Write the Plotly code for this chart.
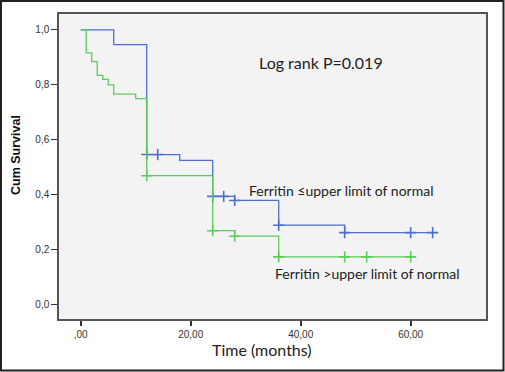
import plotly.graph_objects as go

# ---- data ----
blue_name = "Ferritin ≤upper limit of normal"
blue_times = [0, 6, 12, 18, 24, 28, 36, 48, 64]
blue_surv = [1.0, 0.947, 0.547, 0.526, 0.395, 0.38, 0.29, 0.263, 0.263]
blue_censor_times = [12, 14, 24, 26, 28, 36, 48, 60, 64]

green_name = "Ferritin >upper limit of normal"
green_times = [0, 1, 2, 3, 4, 5, 6, 10, 12, 24, 28, 36, 60]
green_surv = [1.0, 0.917, 0.885, 0.835, 0.82, 0.80, 0.767, 0.75, 0.47, 0.27, 0.25, 0.175, 0.175]
green_censor_times = [12, 24, 28, 36, 48, 52, 60]

x_tickvals = [0, 20, 40, 60]
x_ticktext = [",00", "20,00", "40,00", "60,00"]
y_tickvals = [0, 0.2, 0.4, 0.6, 0.8, 1.0]
y_ticktext = ["0,0", "0,2", "0,4", "0,6", "0,8", "1,0"]

BLUE = "#4f6fcf"
GREEN = "#5ecb5e"


def surv_at(times, surv, t):
    v = surv[0]
    for ti, si in zip(times, surv):
        if ti <= t:
            v = si
    return v


fig = go.Figure()
for name, times, surv, ctimes, col in [
    (blue_name, blue_times, blue_surv, blue_censor_times, BLUE),
    (green_name, green_times, green_surv, green_censor_times, GREEN),
]:
    fig.add_trace(go.Scatter(x=times, y=surv, mode="lines", line_shape="hv",
                             line=dict(color=col, width=1.3), name=name,
                             showlegend=False, hoverinfo="skip"))
    fig.add_trace(go.Scatter(x=ctimes, y=[surv_at(times, surv, t) for t in ctimes],
                             mode="markers",
                             marker=dict(symbol="cross-thin", size=8,
                                         line=dict(color=col, width=1.6)),
                             showlegend=False, hoverinfo="skip"))

tickfont = dict(family="Liberation Sans, Arial", size=10, color="#333333")
fig.update_xaxes(range=[-3.95, 73.7], tickvals=x_tickvals, ticktext=x_ticktext,
                 ticks="outside", ticklen=5, tickwidth=2, tickcolor="#333333",
                 showgrid=False, zeroline=False, showline=True, linecolor="#555555",
                 linewidth=1.5, mirror=True, tickfont=tickfont, automargin=False)
fig.update_yaxes(range=[-0.051, 1.058], tickvals=y_tickvals, ticktext=y_ticktext,
                 ticks="outside", ticklen=6, tickwidth=1.2, tickcolor="#333333",
                 showgrid=False, zeroline=False, showline=True, linecolor="#555555",
                 linewidth=1.5, mirror=True, tickfont=tickfont, automargin=False)

ann_font = dict(family="Lato, Open Sans", color="#222222")
fig.update_layout(
    width=505, height=372,
    margin=dict(l=59, r=19, t=14, b=53),
    paper_bgcolor="white", plot_bgcolor="#f3f3f3",
    annotations=[
        dict(text="Log rank P=0.019", x=0.4637, y=0.8426, xref="paper", yref="paper",
             xanchor="left", yanchor="middle", showarrow=False,
             font=dict(size=16, **ann_font)),
        dict(text=blue_name, x=0.4396, y=0.4207, xref="paper", yref="paper",
             xanchor="left", yanchor="middle", showarrow=False,
             font=dict(size=14, **ann_font)),
        dict(text=green_name, x=0.5005, y=0.1498, xref="paper", yref="paper",
             xanchor="left", yanchor="middle", showarrow=False,
             font=dict(size=14, **ann_font)),
        dict(text="Time (months)", x=0.4747, y=-0.0984, xref="paper", yref="paper",
             xanchor="center", yanchor="middle", showarrow=False,
             font=dict(size=16, **ann_font)),
        dict(text="<b>Cum Survival</b>", x=-0.1007, y=0.5377, xref="paper", yref="paper",
             xanchor="center", yanchor="middle", showarrow=False, textangle=-90,
             font=dict(family="Liberation Sans, Arial", size=12.5, color="#111111")),
    ],
    shapes=[
        dict(type="rect", xref="paper", yref="paper",
             x0=(1 - 59) / 427, x1=(503.5 - 59) / 427,
             y0=(319 - 370.5) / 305, y1=(319 - 1) / 305,
             line=dict(color="#222222", width=2), fillcolor="rgba(0,0,0,0)", layer="above"),
    ],
)

fig.write_html("out.html", config={"displayModeBar": False},
               post_script="document.body.style.margin='0px';document.body.style.overflow='hidden';")
